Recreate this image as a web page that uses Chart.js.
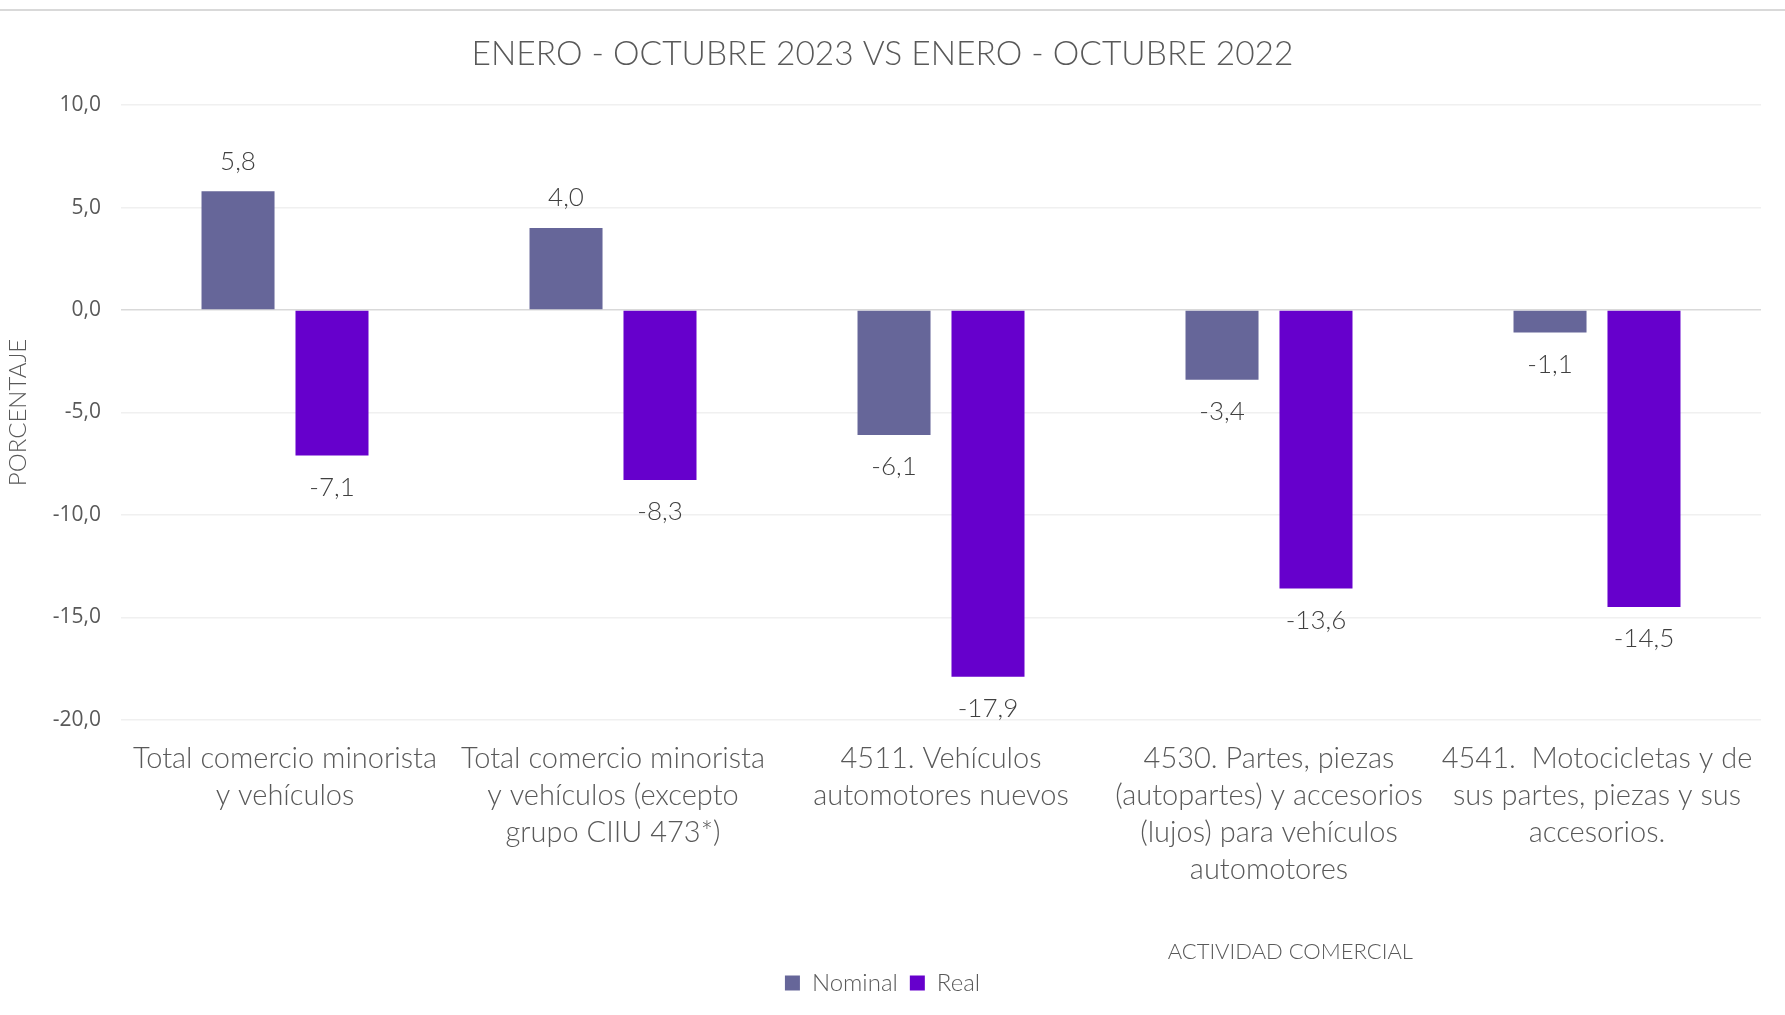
<!DOCTYPE html>
<html>
<head>
<meta charset="utf-8">
<script src="https://cdn.jsdelivr.net/npm/chart.js@4/dist/chart.umd.min.js"></script>
<style>
  html, body { margin: 0; padding: 0; background: #fff; }
  #wrap { position: relative; width: 1785px; height: 1015px; }
  #linea { position: absolute; left: 0; top: 9px; width: 1785px; height: 2px; background: #d9d9d9; }
</style>
</head>
<body>
<div id="wrap">
  <canvas id="chart" width="1785" height="1015"></canvas>
  <div id="linea"></div>
</div>
<script>
// Datos del grafico
var categorias = [
  ["Total comercio minorista", "y vehículos"],
  ["Total comercio minorista", "y vehículos (excepto", "grupo CIIU 473*)"],
  ["4511. Vehículos", "automotores nuevos"],
  ["4530. Partes, piezas", "(autopartes) y accesorios", "(lujos) para vehículos", "automotores"],
  ["4541.  Motocicletas y de", "sus partes, piezas y sus", "accesorios."]
];
var nominal = [5.8, 4.0, -6.1, -3.4, -1.1];
var real = [-7.1, -8.3, -17.9, -13.6, -14.5];

var titulo = "ENERO - OCTUBRE 2023 VS ENERO - OCTUBRE 2022";
var tituloX = "ACTIVIDAD COMERCIAL";
var tituloY = "PORCENTAJE";

var fuenteFina = "Lato, 'Open Sans', sans-serif";
var gris = "#595959";

function coma(v) {
  return v.toFixed(1).replace(".", ",");
}

// Etiquetas de valor sobre/bajo cada barra
var etiquetasPlugin = {
  id: "etiquetas",
  afterDatasetsDraw: function(chart) {
    var ctx = chart.ctx;
    ctx.save();
    ctx.font = "300 26px " + fuenteFina;
    ctx.fillStyle = "#404040";
    ctx.textAlign = "center";
    ctx.textBaseline = "middle";
    chart.data.datasets.forEach(function(ds, i) {
      var meta = chart.getDatasetMeta(i);
      meta.data.forEach(function(bar, j) {
        var v = ds.data[j];
        var y = v >= 0 ? bar.y - 30 : bar.y + 32;
        ctx.fillText(coma(v), bar.x, y);
      });
    });
    ctx.restore();
  }
};

// Titulo del eje X (desplazado a la derecha como en el original)
var tituloXPlugin = {
  id: "tituloX",
  afterDraw: function(chart) {
    var ctx = chart.ctx;
    var area = chart.chartArea;
    ctx.save();
    ctx.font = "300 22px " + fuenteFina;
    ctx.fillStyle = gris;
    ctx.textAlign = "center";
    ctx.textBaseline = "middle";
    ctx.fillText(tituloX, area.left + (area.right - area.left) * 0.713, area.bottom + 232);
    ctx.restore();
  }
};

var data = {
  labels: categorias,
  datasets: [
    { label: "Nominal", data: nominal, backgroundColor: "#666699" },
    { label: "Real", data: real, backgroundColor: "#6600CC" }
  ]
};

var options = {
  responsive: false,
  animation: false,
  layout: { padding: { left: 4, right: 24, top: 0, bottom: 10 } },
  datasets: {
    bar: { categoryPercentage: 0.573, barPercentage: 0.777 }
  },
  plugins: {
    title: {
      display: true,
      text: titulo,
      color: gris,
      font: { family: fuenteFina, size: 33.5, weight: 300 },
      padding: { top: 34, bottom: 31 }
    },
    legend: {
      position: "bottom",
      labels: {
        color: gris,
        font: { family: fuenteFina, size: 24, weight: 300 },
        boxWidth: 15,
        boxHeight: 15,
        padding: 12
      }
    },
    tooltip: { enabled: false }
  },
  scales: {
    x: {
      grid: { display: false },
      border: { display: false },
      ticks: {
        color: gris,
        font: { family: fuenteFina, size: 29, weight: 300, lineHeight: 1.27 },
        padding: 13,
        maxRotation: 0,
        autoSkip: false
      },
      afterFit: function(scale) { scale.height += 58; }
    },
    y: {
      min: -20,
      max: 10,
      border: { display: false },
      grid: {
        drawTicks: false,
        lineWidth: 1.5,
        color: function(c) { return c.tick && c.tick.value === 0 ? "#d9d9d9" : "#f0f0f0"; }
      },
      ticks: {
        stepSize: 5,
        color: gris,
        padding: 20,
        font: { family: "'Open Sans', sans-serif", size: 21 },
        callback: function(v) { return coma(v); }
      },
      title: {
        display: true,
        text: tituloY,
        color: gris,
        font: { family: fuenteFina, size: 24, weight: 300 },
        padding: { top: 0, bottom: 0 }
      }
    }
  }
};

new Chart("chart", {
  type: "bar",
  data: data,
  options: options,
  plugins: [etiquetasPlugin, tituloXPlugin]
});
</script>
</body>
</html>
